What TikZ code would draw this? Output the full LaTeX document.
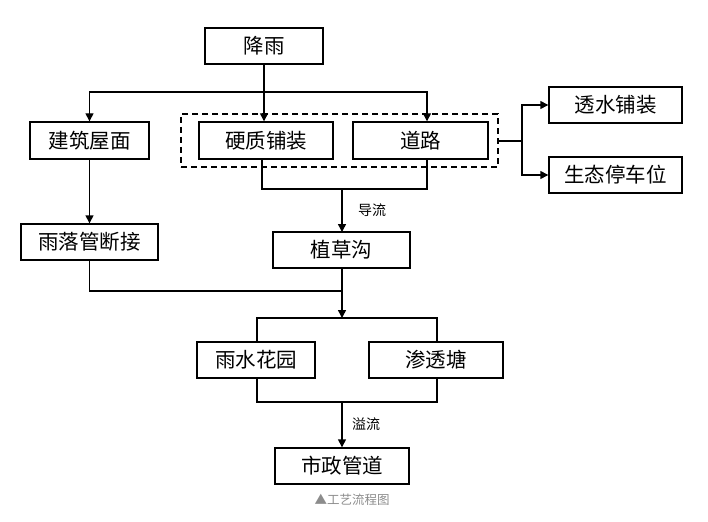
\documentclass[tikz,border=0pt]{standalone}
\usepackage{fontspec}
\setmainfont{Noto Sans CJK SC}
\usetikzlibrary{arrows.meta}
\begin{document}
\begin{tikzpicture}[x=1pt,y=-1pt,
  box/.style={draw, line width=1.4pt, inner sep=0pt, font=\fontsize{20.5}{20.5}\selectfont},
  dbox/.style={draw, line width=1.4pt, dash pattern=on 6pt off 4pt, inner sep=0pt},
  ln/.style={line width=1.4pt},
  arr/.style={line width=1.4pt, -{Triangle[length=8pt,width=8pt]}},
  lbl/.style={font=\fontsize{14}{14}\selectfont}]
\useasboundingbox (0,0) rectangle (708,521);
\node[box, minimum width=118pt, minimum height=36pt] (rain) at (264,46) {降雨};
\node[box, minimum width=119pt, minimum height=37pt] (roof) at (89.5,140.5) {建筑屋面};
\node[box, minimum width=134pt, minimum height=37pt] (hard) at (266,140.5) {硬质铺装};
\node[box, minimum width=135pt, minimum height=37pt] (road) at (420.5,140.5) {道路};
\node[dbox, minimum width=317pt, minimum height=53pt] (group) at (339.5,140.5) {};
\node[box, minimum width=133pt, minimum height=36pt] (perm) at (615.5,105) {透水铺装};
\node[box, minimum width=133pt, minimum height=36pt] (park) at (615.5,175) {生态停车位};
\node[box, minimum width=137pt, minimum height=36pt] (pipe) at (89.5,242) {雨落管断接};
\node[box, minimum width=137pt, minimum height=36pt] (grass) at (341.5,250) {植草沟};
\node[box, minimum width=118pt, minimum height=36pt] (garden) at (256,360) {雨水花园};
\node[box, minimum width=134pt, minimum height=36pt] (pond) at (436,360) {渗透塘};
\node[box, minimum width=134pt, minimum height=36pt] (city) at (342,466) {市政管道};
\node[lbl] (l1) at (372,210) {导流};
\node[lbl] (l2) at (366,424) {溢流};
\node[font=\fontsize{12.5}{12.5}\selectfont, text=black!45] (cap) at (352,500) {▲工艺流程图};
% top split
\coordinate (s1) at (264,92);
\draw[ln] (rain.south -| s1) -- (s1);
\draw[arr] (s1) -- (s1 |- hard.north);
\draw[arr] (s1) -| (roof.north);
\coordinate (rd) at (427,92);
\draw[arr] (s1) -- (rd) -- (rd |- road.north);
% merge to grass
\coordinate (m1) at (262,189);
\coordinate (m2) at (427,189);
\draw[ln] (m1 |- hard.south) -- (m1) -- (m2) -- (m2 |- road.south);
\draw[arr] (342,189) -- (342,232);
% right side
\coordinate (r1) at (522,141);
\draw[ln] (group.east |- r1) -- (r1);
\draw[arr] (r1) |- (perm.west);
\draw[arr] (r1) |- (park.west);
% roof to pipe
\draw[arr] (roof.south) -- (pipe.north);
% pipe + grass to split
\coordinate (m3) at (342,291);
\draw[ln] (pipe.south) |- (m3);
\coordinate (s2) at (342,318);
\draw[arr] (grass.south -| s2) -- (s2);
\draw[ln] (257,342) -- (257,318) -- (437,318) -- (437,342);
\draw[ln] (257,378) -- (257,402) -- (437,402) -- (437,378);
\draw[arr] (342,402) -- (city.north);
\end{tikzpicture}
\end{document}
